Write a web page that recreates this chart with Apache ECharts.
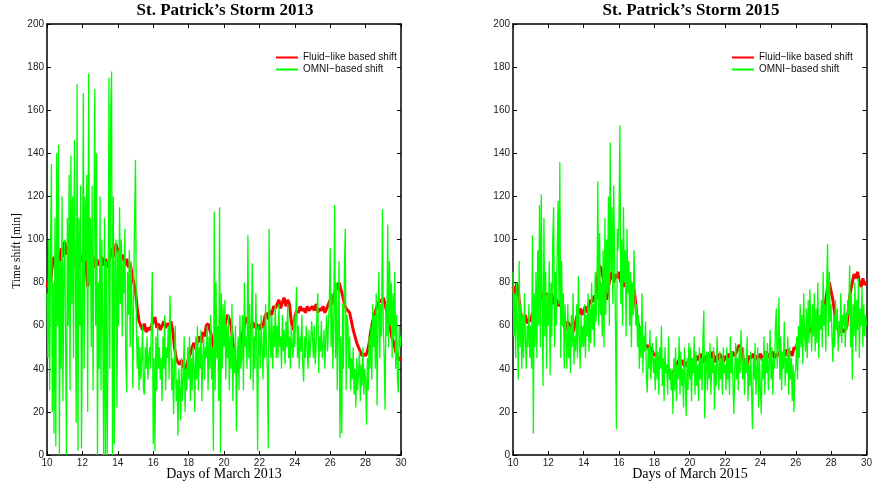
<!DOCTYPE html>
<html>
<head>
<meta charset="utf-8">
<script src="https://cdn.jsdelivr.net/npm/echarts@6/dist/echarts.min.js"></script>
<style>
  html, body { margin: 0; padding: 0; background: #fff; }
  #chart { width: 875px; height: 485px; }
</style>
</head>
<body>
<div id="chart"></div>
<script>
// Sampling: OMNI-based shift every 0.05 day, fluid-like shift every 0.1 day, from March 10
const firstDay = 10;
const omniStep = 0.05;
const fluidStep = 0.1;
const dayRange = [10, 30];
const shiftRange = [0, 200];

const panelTitles = ['St. Patrick\u2019s Storm 2013', 'St. Patrick\u2019s Storm 2015'];
const xAxisNames = ['Days of March 2013', 'Days of March 2015'];
const yAxisName = 'Time shift [min]';
const seriesNames = ['Fluid\u2212like based shift', 'OMNI\u2212based shift'];

// ---- March 2013 ----
const omni2013 = [
  75, 45, 100, 30, 95, 135, 20, 80, 10, 110, 4, 140, 60, 144, 0, 90, 40, 120, 25, 85,
  100, 50, 0, 110, 60, 130, 30, 139, 70, 120, 45, 146, 90, 15, 172, 2, 110, 60, 125, 3,
  60, 168, 40, 120, 90, 130, 20, 177, 80, 110, 50, 125, 30, 100, 170, 60, 140, 0, 80, 40,
  120, 30, 100, 60, 0, 110, 0, 90, 0, 60, 175, 40, 160, 178, 0, 120, 5, 90, 100, 22,
  95, 60, 115, 70, 100, 55, 90, 75, 105, 45, 29, 85, 65, 95, 50, 90, 70, 31, 80, 110,
  137, 60, 40, 55, 30, 50, 35, 45, 60, 30, 28, 50, 40, 55, 35, 45, 50, 40, 40, 85,
  5, 45, 2, 55, 30, 60, 40, 50, 35, 45, 25, 55, 40, 65, 30, 50, 45, 60, 35, 74,
  55, 30, 45, 19, 40, 60, 25, 35, 9, 40, 30, 16, 45, 25, 35, 55, 20, 40, 30, 50,
  35, 55, 25, 45, 30, 50, 40, 20, 55, 35, 60, 30, 50, 40, 58, 25, 45, 55, 35, 50,
  45, 60, 30, 55, 40, 65, 35, 50, 2, 113, 30, 80, 45, 60, 25, 115, 1, 75, 40, 70,
  50, 72, 35, 60, 45, 65, 30, 55, 40, 70, 25, 50, 38, 60, 11, 45, 55, 30, 65, 40,
  45, 65, 30, 80, 50, 55, 40, 102, 45, 70, 35, 60, 89, 30, 55, 40, 75, 50, 2, 60,
  55, 40, 65, 50, 35, 60, 45, 70, 50, 40, 3, 105, 55, 45, 65, 40, 60, 50, 70, 45,
  60, 45, 70, 50, 55, 40, 65, 48, 58, 42, 62, 50, 70, 45, 55, 40, 60, 50, 45, 65,
  50, 65, 78, 45, 60, 40, 55, 48, 65, 42, 34, 55, 45, 60, 50, 40, 58, 45, 52, 62,
  55, 45, 60, 42, 50, 65, 75, 38, 55, 48, 62, 45, 50, 58, 40, 55, 65, 48, 60, 70,
  96, 50, 75, 40, 60, 116, 45, 80, 30, 60, 90, 8, 55, 10, 70, 40, 85, 105, 30, 65,
  60, 40, 55, 30, 45, 35, 50, 28, 40, 22, 45, 30, 38, 48, 25, 42, 32, 50, 28, 40,
  35, 14, 45, 30, 55, 40, 60, 35, 70, 50, 65, 40, 75, 23, 60, 85, 45, 70, 55, 114,
  60, 45, 21, 70, 55, 107, 50, 90, 60, 80, 45, 75, 55, 85, 40, 65, 35, 29, 60, 50,
  55
];
const fluid2013 = [
  78, 83, 80, 88, 92, 87, 94, 90, 96, 92,
  99, 93, 97, 90, 95, 88, 92, 89, 96, 91,
  90, 94, 88, 78, 84, 89, 92, 87, 91, 88,
  90, 92, 88, 91, 87, 90, 93, 96, 92, 98,
  94, 96, 91, 93, 88, 91, 87, 89, 84, 80,
  76, 68, 62, 60, 58, 61, 57, 59, 58, 60,
  62, 64, 59, 61, 58, 60, 62, 59, 61, 60,
  62, 58, 50, 45, 43, 42, 44, 41, 40, 42,
  45, 47, 50, 52, 49, 53, 55, 52, 57, 55,
  60, 61, 58, 55, 50, 48, 52, 49, 53, 56,
  58, 62, 65, 63, 60, 52, 45, 38, 42, 50,
  55, 58, 62, 64, 60, 58, 62, 59, 61, 60,
  58, 61, 59, 64, 66, 63, 67, 65, 69, 68,
  70, 72, 68, 71, 73, 69, 72, 70, 62, 58,
  64, 67, 66, 69, 67, 68, 66, 69, 67, 68,
  69, 67, 70, 66, 68, 67, 69, 66, 68, 70,
  72, 70, 74, 76, 78, 80, 77, 74, 70, 68,
  68, 66, 62, 58, 55, 52, 50, 48, 46, 47,
  46, 48, 52, 58, 62, 65, 68, 70, 72, 71,
  73, 70, 66, 62, 58, 54, 52, 48, 46, 44,
  45
];

// ---- March 2015 ----
const omni2015 = [
  85, 55, 75, 45, 80, 60, 35, 90, 50, 70, 40, 65, 45, 75, 55, 40, 60, 50, 70, 45,
  60, 40, 102, 10, 75, 50, 85, 45, 95, 60, 116, 50, 121, 70, 32, 110, 55, 85, 40, 75,
  60, 90, 37, 80, 55, 100, 115, 50, 85, 60, 95, 118, 70, 136, 45, 90, 60, 75, 40, 70,
  55, 40, 70, 45, 60, 38, 65, 50, 75, 42, 55, 48, 70, 45, 83, 55, 40, 65, 50, 60,
  50, 70, 45, 65, 55, 75, 48, 68, 52, 80, 58, 70, 50, 85, 62, 75, 127, 60, 103, 65,
  80, 55, 95, 50, 110, 65, 100, 75, 120, 60, 145, 85, 115, 70, 125, 90, 60, 12, 105, 95,
  110, 153, 70, 100, 60, 115, 80, 95, 55, 105, 75, 90, 60, 85, 50, 80, 65, 95, 77, 60,
  70, 50, 65, 40, 60, 45, 75, 38, 55, 48, 62, 35, 29, 50, 40, 58, 35, 45, 52, 38,
  45, 30, 55, 35, 48, 28, 50, 40, 60, 32, 45, 25, 50, 38, 42, 28, 55, 35, 40, 30,
  40, 19, 45, 30, 50, 25, 42, 35, 55, 28, 48, 32, 40, 22, 50, 35, 18, 45, 30, 52,
  35, 50, 25, 45, 38, 55, 28, 48, 32, 42, 25, 50, 35, 45, 30, 55, 67, 17, 40, 48,
  30, 48, 35, 52, 28, 45, 38, 50, 21, 42, 32, 55, 40, 30, 48, 35, 45, 28, 50, 38,
  42, 30, 50, 35, 45, 28, 55, 38, 48, 32, 19, 40, 52, 35, 45, 30, 50, 38, 58, 42,
  35, 50, 28, 45, 38, 55, 25, 42, 32, 48, 30, 12, 45, 35, 52, 28, 40, 50, 22, 45,
  30, 19, 45, 35, 55, 28, 48, 38, 52, 30, 42, 58, 35, 50, 28, 45, 40, 60, 68, 40,
  50, 73, 35, 55, 30, 48, 40, 62, 32, 45, 38, 55, 28, 50, 35, 45, 25, 42, 20, 38,
  40, 55, 35, 60, 45, 70, 50, 65, 42, 75, 55, 48, 68, 45, 72, 52, 77, 60, 48, 70,
  55, 75, 48, 68, 52, 80, 45, 65, 58, 72, 50, 85, 60, 70, 48, 78, 98, 55, 85, 62,
  70, 55, 43, 65, 50, 72, 58, 68, 48, 62, 55, 75, 52, 65, 60, 70, 50, 66, 58, 72,
  65, 88, 50, 75, 35, 70, 55, 80, 48, 72, 58, 82, 45, 68, 60, 78, 50, 70, 55, 65,
  60
];
const fluid2015 = [
  78, 74, 80, 76, 67, 64, 62, 65, 61, 63,
  62, 66, 64, 68, 70, 74, 72, 76, 73, 75,
  74, 72, 75, 70, 73, 71, 69, 72, 63, 60,
  58, 62, 59, 61, 57, 60, 64, 66, 68, 65,
  67, 69, 66, 70, 72, 71, 74, 72, 84, 88,
  86, 82, 75, 72, 78, 82, 85, 80, 84, 82,
  85, 80, 83, 78, 82, 79, 81, 76, 78, 74,
  65, 60, 58, 55, 52, 50, 51, 49, 50, 48,
  46, 47, 44, 45, 42, 43, 41, 39, 40, 38,
  37, 39, 41, 43, 44, 42, 44, 41, 43, 42,
  44, 42, 45, 43, 46, 44, 47, 45, 43, 46,
  44, 47, 45, 48, 43, 46, 44, 47, 45, 43,
  46, 44, 47, 45, 48, 46, 47, 49, 51, 50,
  46, 42, 40, 44, 46, 45, 47, 44, 46, 45,
  47, 44, 46, 48, 45, 47, 46, 48, 45, 47,
  46, 48, 45, 47, 46, 49, 47, 48, 46, 50,
  49, 52, 55, 57, 59, 56, 58, 60, 57, 59,
  61, 58, 62, 60, 63, 61, 64, 72, 78, 80,
  76, 72, 66, 60, 58, 57, 59, 57, 58, 60,
  70, 76, 80, 84, 82, 85, 80, 78, 82, 79,
  80
];

const RED = '#ff0000';
const GREEN = '#00ff00';
const SANS = '"Liberation Sans", Arial, sans-serif';
const SERIF = '"Liberation Serif", "Times New Roman", serif';

function timed(values, step) {
  return values.map((v, i) => [Math.round((firstDay + i * step) * 100) / 100, v]);
}

const boxLine = { show: true, onZero: false, lineStyle: { color: '#000', width: 1.5 } };
const ticks = { show: true, inside: true, length: 4, lineStyle: { color: '#000', width: 1 } };
const labels = { color: '#222', fontSize: 10, fontFamily: SANS, margin: 3, showMinLabel: true, showMaxLabel: true };

function xAxes(gridIndex) {
  const base = { type: 'value', gridIndex, min: dayRange[0], max: dayRange[1], interval: 2,
    axisLine: boxLine, axisTick: ticks, splitLine: { show: false } };
  return [
    Object.assign({}, base, { position: 'bottom', axisLabel: labels }),
    Object.assign({}, base, { position: 'top', axisLabel: { show: false } })
  ];
}
function yAxes(gridIndex) {
  const base = { type: 'value', gridIndex, min: shiftRange[0], max: shiftRange[1], interval: 20,
    axisLine: boxLine, axisTick: ticks, splitLine: { show: false } };
  return [
    Object.assign({}, base, { position: 'left', axisLabel: labels }),
    Object.assign({}, base, { position: 'right', axisLabel: { show: false } })
  ];
}

function line(name, data, axisIndex, color, width) {
  return {
    name, type: 'line', data, xAxisIndex: axisIndex, yAxisIndex: axisIndex,
    color, showSymbol: false, symbol: 'none', animation: false,
    lineStyle: { color, width }, itemStyle: { color }, z: color === GREEN ? 3 : 2
  };
}

function legendAt(left) {
  return {
    left, top: 52, orient: 'vertical', padding: 0, itemGap: 1,
    itemWidth: 22, itemHeight: 2, icon: 'rect', selectedMode: false,
    data: seriesNames,
    textStyle: { fontSize: 10, fontFamily: SANS, color: '#111', lineHeight: 11, padding: [0, 0, 0, 0] }
  };
}

const chart = echarts.init(document.getElementById('chart'), null, { renderer: 'canvas' });
chart.setOption({
  backgroundColor: '#fff',
  animation: false,
  grid: [
    { left: 47, top: 24, width: 354, height: 431 },
    { left: 513, top: 24, width: 354, height: 431 }
  ],
  xAxis: [...xAxes(0), ...xAxes(1)],
  yAxis: [...yAxes(0), ...yAxes(1)],
  legend: [legendAt(276), legendAt(732)],
  series: [
    line(seriesNames[0], timed(fluid2013, fluidStep), 0, RED, 3),
    line(seriesNames[1], timed(omni2013, omniStep), 0, GREEN, 1.3),
    line(seriesNames[0], timed(fluid2015, fluidStep), 2, RED, 3),
    line(seriesNames[1], timed(omni2015, omniStep), 2, GREEN, 1.3)
  ],
  graphic: [
    { type: 'text', x: 225, y: 11, style: { text: panelTitles[0], font: 'bold 17px ' + SERIF, fill: '#000', textAlign: 'center', textVerticalAlign: 'middle' } },
    { type: 'text', x: 691, y: 11, style: { text: panelTitles[1], font: 'bold 17px ' + SERIF, fill: '#000', textAlign: 'center', textVerticalAlign: 'middle' } },
    { type: 'text', x: 224, y: 474, style: { text: xAxisNames[0], font: '14px ' + SERIF, fill: '#000', textAlign: 'center', textVerticalAlign: 'middle' } },
    { type: 'text', x: 690, y: 474, style: { text: xAxisNames[1], font: '14px ' + SERIF, fill: '#000', textAlign: 'center', textVerticalAlign: 'middle' } },
    { type: 'text', x: 17, y: 251, rotation: Math.PI / 2, style: { text: yAxisName, font: '11.5px ' + SERIF, fill: '#000', textAlign: 'center', textVerticalAlign: 'middle' } }
  ]
});
</script>
</body>
</html>
